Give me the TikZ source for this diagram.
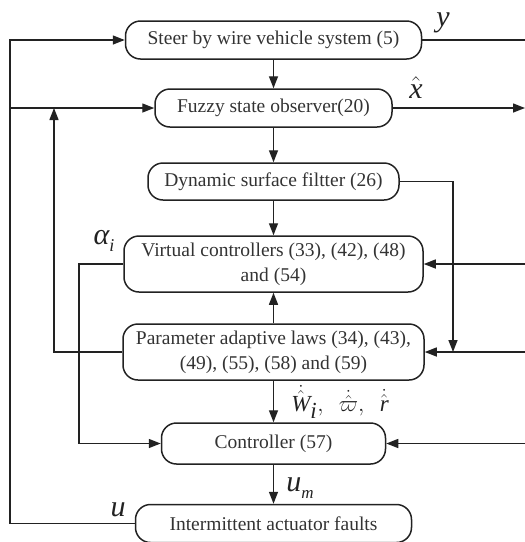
\RequirePackage{fix-cm}
\documentclass[tikz,border=0pt]{standalone}
\usepackage{fontspec}
\setmainfont{Liberation Serif}
\usetikzlibrary{arrows.meta}
\definecolor{ink}{HTML}{222222}
\definecolor{txt}{HTML}{333333}
\newcommand\tvar[1]{\mbox{\itshape #1}}
\begin{document}
\begin{tikzpicture}[x=1pt,y=-1pt,
  box/.style={draw=ink, line width=1.5pt, rounded corners=15pt, inner sep=0pt,
    align=center, text=txt, font=\fontsize{19.5}{25}\selectfont},
  link/.style={draw=ink, line width=1.4pt},
  arr/.style={link, -{Triangle[length=12pt,width=9pt]}},
  biglab/.style={inner sep=0pt, text=ink, font=\fontsize{30}{34}\selectfont},
  smalllab/.style={inner sep=0pt, text=ink, font=\fontsize{23}{26}\selectfont}]
\useasboundingbox (0,0) rectangle (525,542);

\node[box, minimum width=296pt, minimum height=38pt] (sbw) at (273.5,40) {Steer by wire vehicle system (5)};
\node[box, minimum width=237pt, minimum height=38pt] (fso) at (273.5,108) {Fuzzy state observer(20)};
\node[box, minimum width=251pt, minimum height=37pt] (dsf) at (273.5,181.5) {Dynamic surface filtter (26)};
\node[box, minimum width=299pt, minimum height=56pt] (vc) at (273.5,264) {Virtual controllers (33), (42), (48)\\and (54)};
\node[box, minimum width=301pt, minimum height=56pt] (pal) at (273.5,352) {Parameter adaptive laws (34), (43),\\(49), (55), (58) and (59)};
\node[box, minimum width=224pt, minimum height=41pt] (ctl) at (273.5,443.5) {Controller (57)};
\node[box, minimum width=276pt, minimum height=38pt] (iaf) at (273.5,523.5) {Intermittent actuator faults};

\coordinate (lx) at (10,0);
\coordinate (l2) at (54,0);
\coordinate (l3) at (79,0);
\coordinate (rx) at (525,0);
\coordinate (r2) at (453,0);

% centre column
\draw[arr] (sbw.south) -- (fso.north);
\draw[arr] (fso.south) -- (dsf.north);
\draw[arr] (dsf.south) -- (vc.north);
\draw[arr] (pal.north) -- (vc.south);
\draw[arr] (pal.south) -- (ctl.north);
\draw[arr] (ctl.south) -- (iaf.north);

% left feedback lines
\draw[arr] (iaf.west) -| (lx |- sbw.west) -- (sbw.west);
\draw[arr] (lx |- fso.west) -- (fso.west);
\draw[arr] (pal.west) -| (l2 |- fso.west);
\draw[arr] (vc.west) -| (l3 |- ctl.west) -- (ctl.west);

% right side
\draw[link] (sbw.east) -- (rx |- sbw.east);
\draw[arr] (fso.east) -- (rx |- fso.east);
\draw[arr] (dsf.east) -| (r2 |- pal.east);
\draw[arr] (rx |- vc.east) -- (vc.east);
\draw[arr] (rx |- pal.east) -- (pal.east);
\draw[arr] (rx |- ctl.east) -- (ctl.east);

% labels
\node[biglab] (ly) at (443,23) {\itshape y};
\node[biglab] (lxh) at (416,88) {$\hat{\tvar{x}}$};
\node[biglab] (lal) at (104,241) {\itshape α\raisebox{-0.22em}{\fontsize{18}{20}\selectfont i}};
\node[biglab] (lu) at (118,510) {\itshape u};
\node[biglab] (lum) at (300,488) {\itshape u\raisebox{-0.25em}{\fontsize{17}{20}\selectfont m}};
\node[smalllab] (lrow) at (340,402) {$\dot{\hat{\tvar{W}}}_{\tvar{i}},\ \ \dot{\hat{\varpi}},\ \ \dot{\hat{\tvar{r}}}$};
\end{tikzpicture}
\end{document}
